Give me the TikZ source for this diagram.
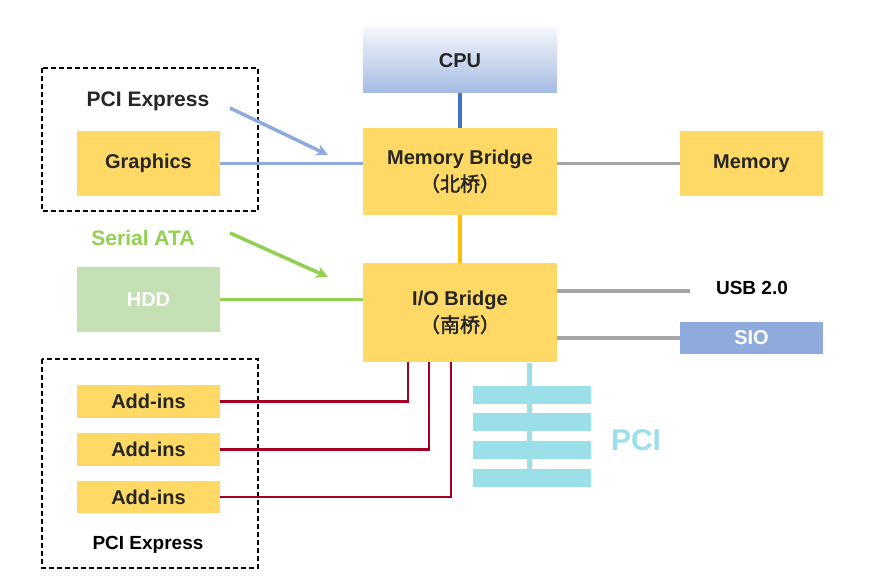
\documentclass[tikz,border=0pt]{standalone}
\usepackage{fontspec}
\setmainfont{Liberation Sans}
\newfontfamily\cjk{Noto Sans CJK SC}[AutoFakeBold=2]
\usetikzlibrary{arrows.meta}
\definecolor{yel}{HTML}{FFD966}
\definecolor{org}{HTML}{FFC000}
\definecolor{lblue}{HTML}{8FAADC}
\definecolor{dblue}{HTML}{4472C4}
\definecolor{grn}{HTML}{92D050}
\definecolor{lgrn}{HTML}{C5E0B4}
\definecolor{gry}{HTML}{A6A6A6}
\definecolor{drd}{HTML}{A50021}
\definecolor{cyan1}{HTML}{9BE0E8}
\definecolor{txt}{HTML}{262626}
\newcommand{\fs}[1]{\fontsize{#1}{#1*1.3}\selectfont}
\begin{document}
\begin{tikzpicture}[x=1pt,y=-1pt,
  box/.style={fill=yel,draw=none,text=txt,font=\bfseries\fontsize{20}{27}\selectfont,align=center,inner sep=0},
  dbox/.style={draw=black,line width=1.6pt,dash pattern=on 5pt off 3pt},
  ln/.style={line width=3.5pt},
  arr/.style={line width=3.5pt,-{Stealth[length=12pt,width=12pt]}}]
\useasboundingbox (0,0) rectangle (880,588);
\node[box,top color=lblue!10,bottom color=lblue!80,minimum width=194,minimum height=65] (cpu) at (460,60.5) {CPU};
\node[box,minimum width=194,minimum height=87] (mb) at (460,171.5) {Memory Bridge\\{\cjk\bfseries （北桥）}};
\node[box,minimum width=194,minimum height=99] (io) at (460,312.5) {I/O Bridge\\{\cjk\bfseries （南桥）}};
\node[box,minimum width=143,minimum height=65] (mem) at (751.5,163.5) {Memory};
\node[box,minimum width=143,minimum height=65] (gfx) at (148.5,163.5) {Graphics};
\node[box,fill=lgrn,text=white,minimum width=143,minimum height=65] (hdd) at (148.5,299.5) {HDD};
\node[box,fill=lblue,text=white,minimum width=143,minimum height=32] (sio) at (751.5,338) {SIO};
\node[font=\bfseries\fontsize{19}{23}\selectfont,text=black] (usb) at (752,288) {USB 2.0};
\coordinate (usbl) at (690,291);
\node[box,minimum width=143,minimum height=33] (a1) at (148.5,401.5) {Add-ins};
\node[box,minimum width=143,minimum height=33] (a2) at (148.5,449.5) {Add-ins};
\node[box,minimum width=143,minimum height=32] (a3) at (148.5,497) {Add-ins};
\draw[dbox] (42,68) rectangle (258,211);
\draw[dbox] (42,359) rectangle (258,568);
\node[font=\bfseries\fontsize{21}{25}\selectfont,text=txt] (pe1) at (148,101) {PCI Express};
\node[font=\bfseries\fontsize{21}{25}\selectfont,text=grn] (sata) at (143,238) {Serial ATA};
\node[font=\bfseries\fontsize{19}{23}\selectfont,text=black] (pe2) at (148,545) {PCI Express};
\node[font=\bfseries\fontsize{30}{36}\selectfont,text=cyan1] (pci) at (636,440) {PCI};
% connectors
\draw[ln,dblue] (cpu.south) -- (mb.north);
\draw[ln,org] (mb.south) -- (io.north);
\draw[ln,gry] (mb.east |- mem.west) -- (mem.west);
\draw[ln,gry] (io.east |- usbl) -- (usbl);
\draw[ln,gry] (io.east |- sio.west) -- (sio.west);
\draw[ln,lblue] (gfx.east) -- (mb.west |- gfx.east);
\draw[ln,grn] (hdd.east) -- (io.west |- hdd.east);
\coordinate (p1) at (230,108); \coordinate (p2) at (328,155);
\draw[arr,lblue] (p1) -- (p2);
\coordinate (s1) at (230,233); \coordinate (s2) at (328,277);
\draw[arr,grn] (s1) -- (s2);
\draw[line width=2.2pt,drd] (a1.east) -| (408,362);
\draw[line width=2.2pt,drd] (a2.east) -| (429,362);
\draw[line width=2.2pt,drd] (a3.east) -| (451,362);
% PCI bus
\coordinate (pt) at (529,363); \coordinate (pb) at (529,470);
\draw[line width=5pt,cyan1] (pt) -- (pb);
\foreach \y in {386,413,441,469}{\fill[cyan1] (473,\y) rectangle (591,\y+18);}
\end{tikzpicture}
\end{document}
